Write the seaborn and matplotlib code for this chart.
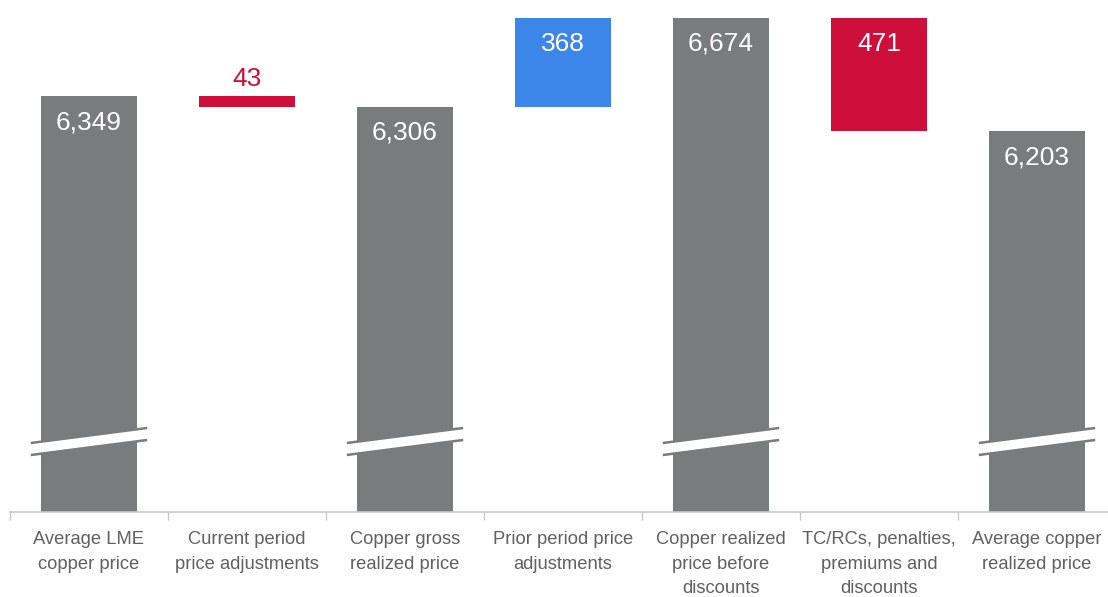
import matplotlib
matplotlib.use("Agg")
import matplotlib.pyplot as plt
import seaborn as sns
import pandas as pd
import numpy as np
from matplotlib.patches import Polygon

# ---- data ----
categories = ["Average LME\ncopper price", "Current period\nprice adjustments",
              "Copper gross\nrealized price", "Prior period price\nadjustments",
              "Copper realized\nprice before\ndiscounts", "TC/RCs, penalties,\npremiums and\ndiscounts",
              "Average copper\nrealized price"]
values = [6349, -43, 6306, 368, 6674, -471, 6203]
kinds = ["total", "change", "total", "change", "total", "change", "total"]
labels = ["6,349", "43", "6,306", "368", "6,674", "471", "6,203"]

GRAY = "#7a7b7d"
BLUE = "#3b86e8"
RED = "#cf0f3b"

# waterfall geometry computed from values
bottoms, heights, colors = [], [], []
running = 0
for v, k in zip(values, kinds):
    if k == "total":
        bottoms.append(0); heights.append(v); colors.append(GRAY); running = v
    else:
        new = running + v
        bottoms.append(min(running, new)); heights.append(abs(v))
        colors.append(BLUE if v > 0 else RED); running = new

df = pd.DataFrame({"cat": categories, "h": heights})

sns.set_theme(style="white")
plt.rcParams["font.family"] = ["Liberation Sans", "DejaVu Sans"]

fig = plt.figure(figsize=(11.08, 5.97), dpi=100)
CAT_W = 158.0
ax = fig.add_axes([10/1108, 85/597, 7 * CAT_W / 1108, 494/597])

W = 0.61
sns.barplot(data=df, x="cat", y="h", bottom=bottoms, color=GRAY, width=W,
            ax=ax, saturation=1, linewidth=0, errorbar=None)
for p, c in zip(ax.patches, colors):
    p.set_facecolor(c)
    p.set_edgecolor("none")

ymin, ymax = 4624, 6674
ax.set_ylim(ymin, ymax)
ax.set_xlim(-0.5, len(categories) - 0.5)

px = (ymax - ymin) / 494.0  # data units per pixel

# value labels
for i, (b, h, c, lab, k) in enumerate(zip(bottoms, heights, colors, labels, kinds)):
    top = b + h
    if c == RED and h < 100:
        ax.text(i, top + 17 * px, lab, ha="center", va="center", color=RED, fontsize=19)
    else:
        ax.text(i, top - 26 * px, lab, ha="center", va="center", color="white", fontsize=19)

# axis break marks on total bars
level = ymax - (441.5 - 18) * px
half_t = 6 * px
rise = 7.5 * px
ext = 10 / CAT_W
for i, k in enumerate(kinds):
    if k != "total":
        continue
    xl, xr = i - W / 2 - ext, i + W / 2 + ext
    poly = Polygon([(xl, level - rise - half_t), (xr, level + rise - half_t),
                    (xr, level + rise + half_t), (xl, level - rise + half_t)],
                   closed=True, facecolor="white", edgecolor="none", zorder=5)
    ax.add_patch(poly)
    ax.plot([xl, xr], [level - rise - half_t, level + rise - half_t], color=GRAY, lw=1.8, zorder=6,
            solid_capstyle="butt")
    ax.plot([xl, xr], [level - rise + half_t, level + rise + half_t], color=GRAY, lw=1.8, zorder=6,
            solid_capstyle="butt")

# axes styling
for s in ["top", "right", "left"]:
    ax.spines[s].set_visible(False)
ax.spines["bottom"].set_color("#c8c8c8")
ax.spines["bottom"].set_linewidth(1.2)
ax.set_yticks([])
ax.set_xlabel("")
ax.set_ylabel("")
ax.set_xticks(range(len(categories)))
ax.set_xticklabels(categories, fontsize=13.2, color="#606060", linespacing=1.55)
ax.tick_params(axis="x", which="major", length=0, pad=14)
ax.set_xticks(np.arange(-0.5, len(categories)), minor=True)
ax.tick_params(axis="x", which="minor", bottom=True, length=6, color="#c8c8c8", width=1,
               direction="out")

fig.savefig("out.png", dpi=100, facecolor="white")
